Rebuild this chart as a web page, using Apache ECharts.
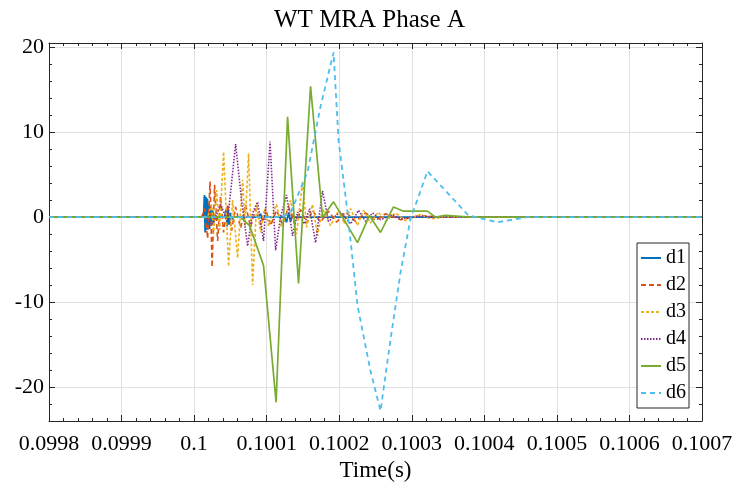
<!DOCTYPE html>
<html>
<head>
<meta charset="utf-8">
<script src="https://cdn.jsdelivr.net/npm/echarts@6/dist/echarts.min.js"></script>
<style>
  html, body { margin: 0; padding: 0; background: #fff; }
  #chart { width: 739px; height: 492px; }
</style>
</head>
<body>
<div id="chart"></div>
<script>
// time values are microseconds after t = 0.1 s
var xTickLabels = ['0.0998', '0.0999', '0.1', '0.1001', '0.1002', '0.1003', '0.1004', '0.1005', '0.1006', '0.1007'];
var seriesNames = ['d1', 'd2', 'd3', 'd4', 'd5', 'd6'];

var d1 = [[-200, 0], [13.1, 0], [14.2, 2.6], [15.2, -1.8], [16.3, 2.4], [17.2, -1.5], [18.3, 2.2], [19.3, -1.3],
  [20.4, 1.6], [21.3, -1.4], [22.7, 1.2], [24.1, -1.0], [25.5, 0.8], [26.9, -0.6], [28.9, 0.4], [31.0, -0.3],
  [33.7, 0.1], [42.0, 0], [44.1, 0.9], [45.5, -1.1], [46.8, 0.8], [48.2, -0.9], [49.6, 0.5], [51.7, -0.3],
  [54.4, 0], [88.8, 0], [91.6, 0.4], [94.4, -0.4], [97.1, 0.2], [99.9, 0], [124.7, 0], [127.4, -0.6],
  [130.2, 0.5], [132.9, -0.5], [135.7, 0.3], [138.4, 0], [700, 0]];

var d2 = [[-200, 0], [10.3, 0], [14.5, 1.0], [18.6, -2.5], [22.0, 4.2], [24.8, -5.9], [28.2, 3.8], [32.4, -2.8],
  [36.5, 2.5], [40.6, -1.8], [46.1, 1.5], [51.7, -1.6], [57.2, 1.2], [64.1, -1.3], [70.9, 1.5], [77.8, -1.2],
  [84.7, 1.0], [91.6, -0.9], [98.5, 1.0], [105.4, -1.0], [113.6, 0.8], [121.9, -0.9], [130.2, 1.2], [138.4, -0.8],
  [146.7, 0.9], [155.0, -0.7], [163.2, 0.8], [174.2, -0.6], [185.3, 0.7], [196.3, -0.6], [208.7, 0.6],
  [222.5, -0.5], [236.2, 0.5], [250.0, -0.4], [263.8, 0.4], [284.5, -0.3], [312.0, 0.2], [339.5, 0], [700, 0]];

var d3 = [[-200, 0], [18.6, 0], [24.1, 1.5], [26.9, -2.0], [31.0, 3.2], [35.1, -1.5], [40.6, 7.7], [47.5, -5.8],
  [53.0, 2.0], [59.9, -4.8], [66.8, 4.4], [70.2, -1.0], [75.1, 7.5], [80.6, -8.0], [86.1, 1.5], [91.6, -1.8],
  [97.1, 1.0], [102.6, -1.0], [113.6, 1.5], [120.5, -1.2], [132.9, 2.0], [141.2, -2.0], [149.5, 4.2],
  [155.0, -1.2], [163.2, 1.5], [170.1, -2.2], [177.0, 1.0], [188.0, -1.0], [199.0, 0.8], [207.3, -0.8],
  [215.6, 1.0], [225.2, -1.0], [233.5, 0.8], [243.1, -0.7], [254.1, 0.6], [263.8, -0.5], [277.6, 0.5],
  [291.3, -0.4], [312.0, 0.3], [325.8, -0.2], [346.4, 0], [700, 0]];

var d4 = [[-200, 0], [14.5, 0], [25.5, -0.8], [36.5, 1.5], [46.1, -0.5], [57.2, 8.6], [65.4, 2.0], [73.7, -3.4],
  [80.6, 0.5], [87.5, 1.8], [95.7, -2.8], [104.7, 8.9], [112.3, -3.9], [119.1, 0], [127.4, 2.6], [135.7, -2.2],
  [142.6, 0.6], [152.2, -0.8], [159.1, 1.0], [167.4, -3.0], [177.0, 3.1], [185.3, -0.5], [201.8, 0.6],
  [215.6, -0.8], [226.6, 0.8], [236.2, -0.5], [245.9, 0.5], [256.9, -0.3], [273.4, 0.3], [284.5, -0.2],
  [312.0, 0.1], [339.5, 0], [700, 0]];

var d5 = [[-200, 0], [64.1, 0], [76.4, -1.0], [95.7, -5.7], [113.0, -21.8], [128.8, 11.8], [143.9, -7.8],
  [160.5, 15.4], [177.0, 0], [192.2, 1.8], [225.2, -3.0], [241.7, 0.2], [256.9, -1.8], [274.8, 1.2],
  [288.6, 0.7], [321.6, 0.7], [332.6, 0], [346.4, 0.2], [380.8, 0], [700, 0]];

var d6 = [[-200, 0], [119.1, 0], [132.9, 0.5], [156.3, 5.3], [174.2, 13.0], [192.2, 19.4], [199.0, 9.1],
  [211.4, 0.6], [225.2, -10.4], [243.1, -18.1], [256.9, -22.8], [270.7, -14.4], [284.5, -6.5], [298.3, -0.2],
  [321.6, 5.4], [378.1, 0.2], [418.0, -0.6], [459.4, 0], [700, 0]];

var seriesData = [d1, d2, d3, d4, d5, d6];
var colors = ['#0072BD', '#D95319', '#EDB120', '#7E2F8E', '#77AC30', '#4DBEEE'];
var dashes = ['solid', [5, 3], [3, 2], [1.5, 1.5], 'solid', [5, 4]];
var widths = [1.8, 1.6, 1.6, 1.6, 1.7, 1.8];

var serif = '"Liberation Serif", "DejaVu Serif", serif';
var boxColor = '#262626';

var chart = echarts.init(document.getElementById('chart'));

function xAx(pos, main) {
  return {
    type: 'value', position: pos, min: -200, max: 700, interval: 100,
    axisLine: { show: true, onZero: false, lineStyle: { color: boxColor, width: 1 } },
    axisTick: { show: true, inside: true, length: 6, lineStyle: { color: boxColor } },
    minorTick: { show: true, splitNumber: 5, length: 3, lineStyle: { color: boxColor } },
    axisLabel: {
      show: main, margin: 12, color: '#000', fontFamily: serif, fontSize: 22,
      formatter: function (v) { return xTickLabels[Math.round((v + 200) / 100)]; }
    },
    splitLine: { show: main, lineStyle: { color: '#e0e0e0', width: 1 } },
    name: main ? 'Time(s)' : '',
    nameLocation: 'middle', nameGap: 32,
    nameTextStyle: { color: '#000', fontFamily: serif, fontSize: 23 }
  };
}

function yAx(pos, main, minor) {
  var ax = {
    type: 'value', position: pos, min: -24, max: 20.5,
    axisLine: { show: !minor, onZero: false, lineStyle: { color: boxColor, width: 1 } },
    axisTick: { show: true, inside: true, length: minor ? 3 : 6, lineStyle: { color: boxColor } },
    axisLabel: { show: main, margin: 5, color: '#000', fontFamily: serif, fontSize: 22,
      showMinLabel: false, showMaxLabel: false },
    splitLine: { show: main, lineStyle: { color: '#e0e0e0', width: 1 } }
  };
  if (minor) ax.interval = 2; else ax.splitNumber = 5;
  return ax;
}

chart.setOption({
  animation: false,
  backgroundColor: '#fff',
  title: {
    text: 'WT MRA Phase A', left: 'center', top: 3,
    textStyle: { color: '#000', fontFamily: serif, fontSize: 25, fontWeight: 'normal' }
  },
  grid: { left: 49, right: 37, top: 43, bottom: 71 },
  legend: {
    data: seriesNames, orient: 'vertical', right: 50, top: 243,
    itemWidth: 20, itemHeight: 12, itemGap: 7,
    padding: [5, 3, 5, 3],
    itemStyle: { opacity: 0 },
    backgroundColor: '#fff', borderColor: boxColor, borderWidth: 1, borderRadius: 0,
    textStyle: { color: '#000', fontFamily: serif, fontSize: 20 }
  },
  xAxis: [xAx('bottom', true), xAx('top', false)],
  yAxis: [yAx('left', true, false), yAx('left', false, true), yAx('right', false, false), yAx('right', false, true)],
  series: seriesNames.map(function (n, i) {
    return {
      name: n, type: 'line', xAxisIndex: 0, yAxisIndex: 0,
      data: seriesData[i], symbol: 'none',
      lineStyle: { color: colors[i], width: widths[i], type: dashes[i] },
      itemStyle: { color: colors[i] }
    };
  })
});
</script>
</body>
</html>
